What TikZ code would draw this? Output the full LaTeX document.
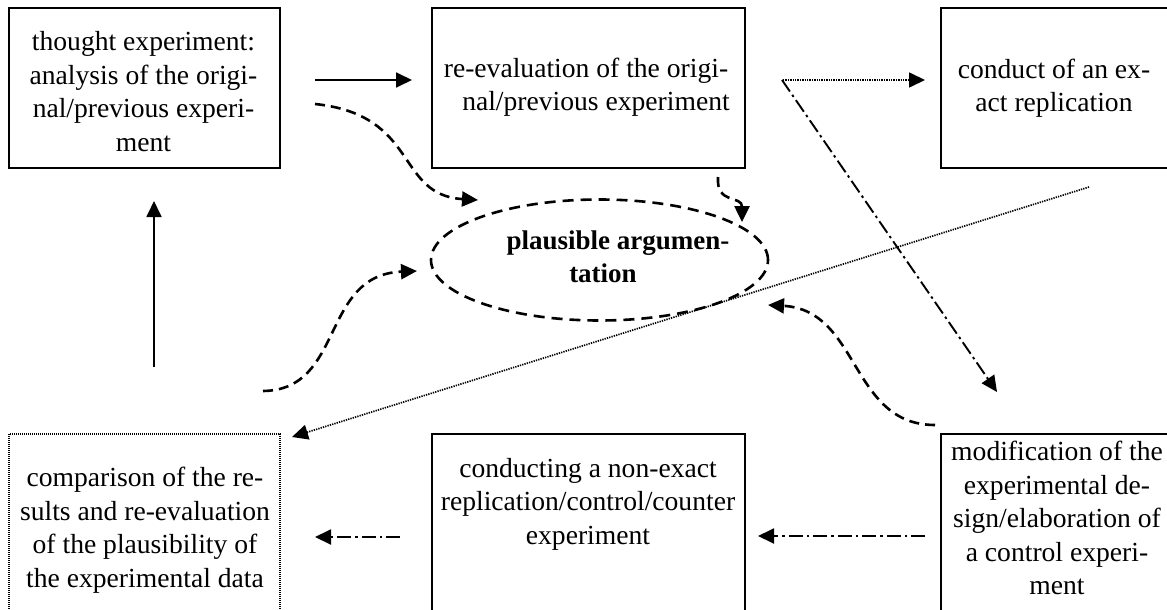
\documentclass[tikz,border=0pt]{standalone}
\usepackage{fontspec}
\setmainfont{Liberation Serif}
\usetikzlibrary{arrows.meta,shapes.geometric}
\begin{document}
\begin{tikzpicture}[x=1pt,y=-1pt,
  box/.style={draw, line width=2.2pt, anchor=north west, inner sep=0pt},
  dotbox/.style={draw, line width=1.6pt, dash pattern=on 1pt off 1pt, anchor=north west, inner sep=0pt},
  txt/.style={align=center, font=\fontsize{27.6}{33.5}\selectfont, inner sep=0pt},
  tip/.style={-{Triangle[length=16pt,width=15pt]}},
  solidarrow/.style={tip, line width=1.8pt},
  dasharrow/.style={tip, line width=2.6pt, dash pattern=on 10pt off 6pt},
  dotarrow/.style={tip, line width=1.7pt, dash pattern=on 1.3pt off 1.1pt},
  dashdotarrow/.style={tip, line width=1.9pt, dash pattern=on 14pt off 4pt on 2.5pt off 4pt},
]
\useasboundingbox (0,0) rectangle (1167,610);

% boxes
\node[box, minimum width=271pt, minimum height=160pt] (A) at (8,7) {};
\node[box, minimum width=313pt, minimum height=160pt] (B) at (431,7) {};
\node[box, minimum width=230pt, minimum height=160pt] (C) at (940,7) {};
\node[dotbox, minimum width=271pt, minimum height=200pt] (D) at (8,433) {};
\node[box, minimum width=313pt, minimum height=200pt] (E) at (431,433) {};
\node[box, minimum width=230pt, minimum height=200pt] (F) at (940,433) {};
\node[draw, ellipse, line width=2.6pt, dash pattern=on 11pt off 7pt,
      minimum width=337pt, minimum height=121pt] (P) at (599.5,260) {};

% texts
\node[txt] (At) at (143.5,91.5) {thought experiment:\\analysis of the origi-\\nal/previous experi-\\ment};
\node[txt] (Bt) at (586,87) {re-evaluation of the origi-\\\hspace*{20pt}nal/previous experiment};
\node[txt] (Ct) at (1054,88) {conduct of an ex-\\act replication};
\node[txt, font=\fontsize{27}{33}\selectfont\bfseries] (Pt) at (603,257) {\hspace*{30pt}plausible argumen-\\tation};
\node[txt] (Dt) at (145,530) {comparison of the re-\\sults and re-evaluation\\of the plausibility of\\the experimental data};
\node[txt] (Et) at (588,504) {conducting a non-exact\\replication/control/counter\\experiment};
\node[txt] (Ft) at (1057,518) {modification of the\\experimental de-\\sign/elaboration of\\a control experi-\\ment};

% connector end points
\coordinate (a1) at (315,80);   \coordinate (b1) at (412,80);
\coordinate (a2) at (315,104);  \coordinate (p1) at (478,200);
\coordinate (b2) at (718,177);  \coordinate (p2) at (742,222);
\coordinate (b3) at (783,80);   \coordinate (c1) at (925,80);
\coordinate (b4) at (782,80);   \coordinate (f1) at (997,392);
\coordinate (c2) at (1089,187); \coordinate (d1) at (292,437);
\coordinate (f2) at (935,425);  \coordinate (p3) at (768,305);
\coordinate (d2) at (263,391);  \coordinate (p4) at (417,271);
\coordinate (d3) at (154,367);  \coordinate (a3) at (154,201);
\coordinate (f3) at (925,536);  \coordinate (e1) at (758,536);
\coordinate (e2) at (400,537);  \coordinate (d4) at (315,537);

% connectors
\draw[solidarrow] (a1) -- (b1);
\draw[solidarrow] (d3) -- (a3);
\draw[dasharrow] (a2) .. controls (420,115) and (395,195) .. (p1);
\draw[dasharrow] (b2) .. controls (716,205) and (742,195) .. (p2);
\draw[dasharrow] (f2) .. controls (850,425) and (860,310) .. (p3);
\draw[dasharrow] (d2) .. controls (345,390) and (320,275) .. (p4);
\draw[dotarrow] (b3) -- (c1);
\draw[dotarrow] (c2) -- (d1);
\draw[dashdotarrow] (b4) -- (f1);
\draw[dashdotarrow] (f3) -- (e1);
\draw[dashdotarrow] (e2) -- (d4);
\end{tikzpicture}
\end{document}
